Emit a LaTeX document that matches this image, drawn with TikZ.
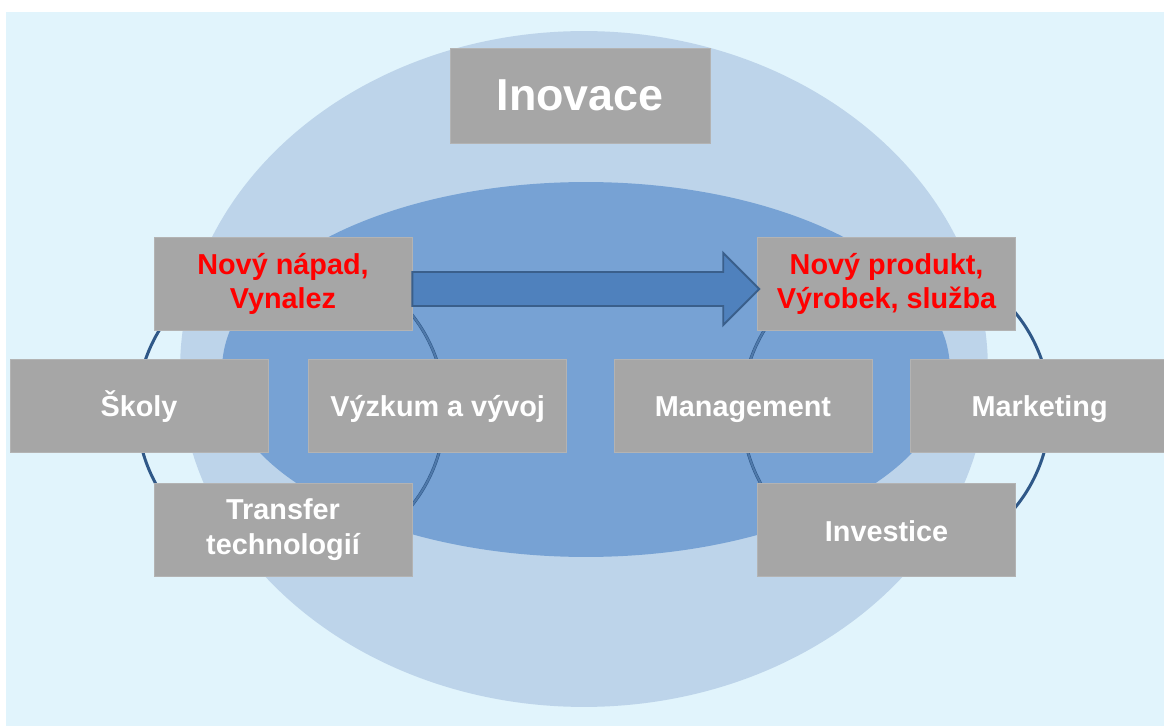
\documentclass[tikz,border=0pt]{standalone}
\usepackage{fontspec}
\setmainfont{Liberation Sans}
\usetikzlibrary{positioning,calc}

\definecolor{bgblue}{HTML}{E1F4FC}
\definecolor{outerblue}{HTML}{BDD4EA}
\definecolor{innerblue}{HTML}{77A2D4}
\definecolor{boxgrey}{HTML}{A6A6A6}
\definecolor{ringblue}{HTML}{2F5888}
\definecolor{arrowblue}{HTML}{4F81BD}
\definecolor{arrowedge}{HTML}{3A5F8B}

\begin{document}
\begin{tikzpicture}[x=0.02cm, y=-0.02cm,
        box/.style={fill=boxgrey, draw=boxgrey!85!white, line width=0.4pt,
            minimum width=5.16cm, minimum height=1.86cm, inner sep=0pt,
            align=center, text=white,
            font=\fontsize{16.4}{19.8}\selectfont\bfseries},
        oneline/.style={box, text height=0.58cm, text depth=0.12cm},
        idea/.style={box, text=red},
        ring/.style={draw=ringblue, line width=1.7pt},
        ringin/.style={draw=ringblue!55!innerblue, line width=1.1pt},
        bigarrow/.style={fill=arrowblue, draw=arrowedge, line width=1.1pt, line join=miter}]
            \useasboundingbox (0,0) rectangle (1164,726);
            \fill [bgblue] (6,12) rectangle (1164,726);

            \fill [outerblue] (584,369) ellipse [x radius=8.08cm, y radius=6.76cm];
            \fill [innerblue] (586,369.5) ellipse [x radius=7.28cm, y radius=3.75cm];

            \coordinate (lc) at (291,410);
            \coordinate (rc) at (896,410);
            \draw [ring] (lc) circle [radius=3.08cm] (rc) circle [radius=3.08cm];
            \begin{scope}
                \clip (586,369.5) ellipse [x radius=7.28cm, y radius=3.75cm];
                \draw [ringin] (lc) circle [radius=3.08cm] (rc) circle [radius=3.08cm];
            \end{scope}

            \node [box, minimum width=5.2cm, minimum height=1.9cm,
                font=\fontsize{25.5}{30}\selectfont\bfseries] (inov) at (580,95.5) {Inovace};

            \node [idea] (napad) at (283,284) {Nový nápad,\\Vynalez};
            \node [idea, right=6.9cm of napad] (prod) {Nový produkt,\\Výrobek, služba};

            \node [oneline] (skoly) at (139,405.5) {Školy};
            \node [oneline, right=0.8cm of skoly] (vyv) {Výzkum a vývoj};
            \node [oneline] (mgmt) at (743,405.5) {Management};
            \node [oneline, right=0.76cm of mgmt] (mkt) {Marketing};

            \node [box, below=3.04cm of napad] (trans) {Transfer\\technologií};
            \node [oneline, below=3.04cm of prod] (inv) {Investice};

            \draw [bigarrow] ($(napad.east)+(0,-12)$) -- ($(prod.west)+(-34,-12)$)
                -- ($(prod.west)+(-34,-31)$) -- ($(prod.west)+(2,5)$)
                -- ($(prod.west)+(-34,41)$) -- ($(prod.west)+(-34,22)$)
                -- ($(napad.east)+(0,22)$) -- cycle;
        \end{tikzpicture}
\end{document}
